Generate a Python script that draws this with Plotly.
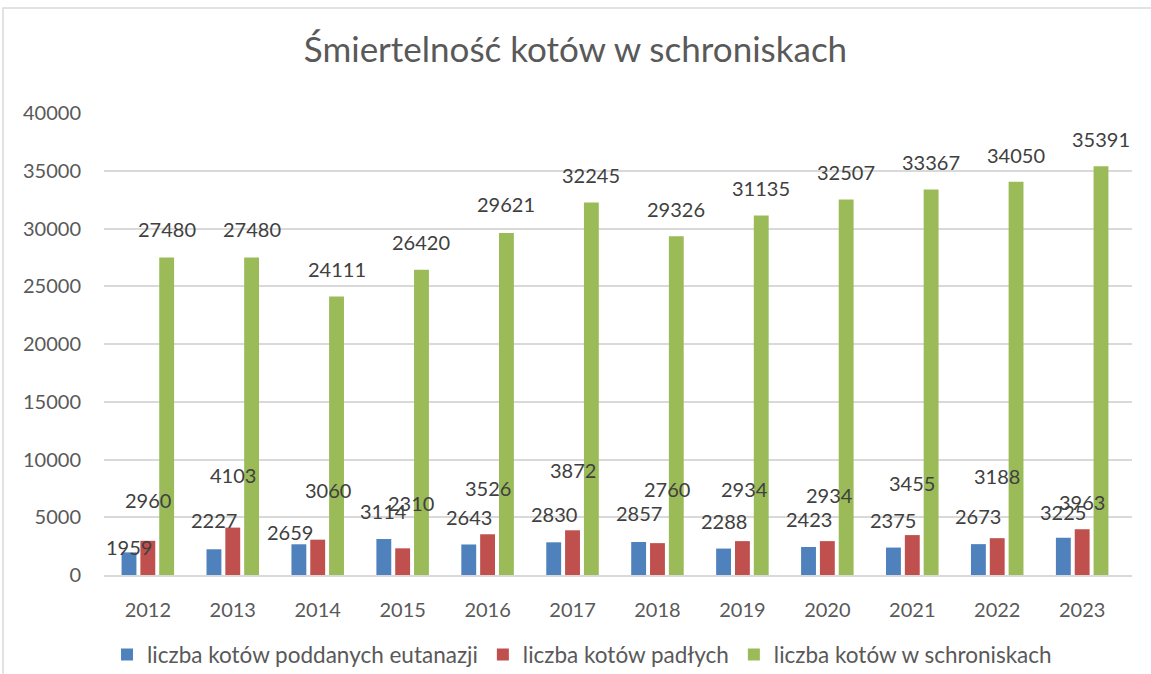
import plotly.graph_objects as go

years = ["2012", "2013", "2014", "2015", "2016", "2017", "2018", "2019", "2020", "2021", "2022", "2023"]
euthanized = [1959, 2227, 2659, 3114, 2643, 2830, 2857, 2288, 2423, 2375, 2673, 3225]
died = [2960, 4103, 3060, 2310, 3526, 3872, 2760, 2934, 2934, 3455, 3188, 3963]
in_shelters = [27480, 27480, 24111, 26420, 29621, 32245, 29326, 31135, 32507, 33367, 34050, 35391]

series_names = ["liczba kotów poddanych eutanazji", "liczba kotów padłych", "liczba kotów w schroniskach"]
colors = ["#4f81bd", "#c0504d", "#9bbb59"]

# label placement (pixel offsets of each data label from the bar top, as in the original)
label_dy = [
    [5, 29, 12, 28, 27, 28, 29, 28, 28, 28, 28, 26],
    [41, 53, 50, 45, 46, 60, 54, 52, 46, 52, 62, 27],
    [29, 29, 28, 28, 29, 28, 27, 27, 28, 28, 27, 27],
]
label_dx = [
    [0, 0, -9, 0, 0, 0, 0, 0, 0, 0, 0, 0],
    [0, 0, 10, 8, 0, 0, 10, 2, 2, 0, 0, 0],
    [0, 0, 0, 0, 0, 0, 0, 0, 0, 0, 0, 0],
]

FONT = "Lato, 'Noto Sans', sans-serif"
all_series = [euthanized, died, in_shelters]

fig = go.Figure()
for name, vals, col in zip(series_names, all_series, colors):
    fig.add_trace(go.Bar(x=years, y=vals, name=name, marker=dict(color=col, line=dict(width=0))))

offsets = [-0.2217, 0.0, 0.2217]
annotations = []
for s, vals in enumerate(all_series):
    for i, v in enumerate(vals):
        annotations.append(dict(
            x=i + offsets[s], y=v, xref="x", yref="y", text=str(v), showarrow=False,
            yanchor="middle", xanchor="center", yshift=label_dy[s][i], xshift=label_dx[s][i],
            font=dict(family=FONT, size=20, color="#404040"),
        ))

fig.update_layout(
    width=1151, height=674,
    margin=dict(l=104, r=19, t=113, b=99, autoexpand=False),
    paper_bgcolor="white", plot_bgcolor="white",
    barmode="group", bargap=0.335, bargroupgap=0.21,
    title=dict(text="Śmiertelność kotów w schroniskach", x=0.5, xanchor="center",
               y=1 - 50 / 674, yanchor="middle",
               font=dict(family=FONT, size=35, color="#595959")),
    font=dict(family=FONT, size=20, color="#595959"),
    showlegend=True,
    legend=dict(orientation="h", x=0.465, xanchor="center", y=-0.173, yanchor="middle",
                font=dict(family=FONT, size=22.5, color="#595959"), bgcolor="rgba(0,0,0,0)"),
    annotations=annotations,
    shapes=[dict(type="rect", xref="paper", yref="paper",
                 x0=(3 - 104) / 1028, x1=(1170 - 104) / 1028,
                 y0=(575 - 700) / 462, y1=(575 - 8) / 462,
                 line=dict(color="#d9d9d9", width=1.5), fillcolor="rgba(0,0,0,0)", layer="below")],
)
fig.update_xaxes(type="category", showgrid=False, showline=True, linecolor="#d9d9d9", linewidth=1.5,
                 ticks="", ticklabelstandoff=16, tickfont=dict(family=FONT, size=20, color="#595959"))
fig.update_yaxes(range=[0, 40000], dtick=5000, tickformat="d", showgrid=True, gridcolor="#d9d9d9",
                 gridwidth=1.5, zeroline=False, showline=False, ticks="", ticklabelstandoff=22,
                 tickfont=dict(family=FONT, size=20, color="#595959"))

fig.write_html("out.html", config={"displayModeBar": False},
               post_script="document.body.style.margin='0';")
